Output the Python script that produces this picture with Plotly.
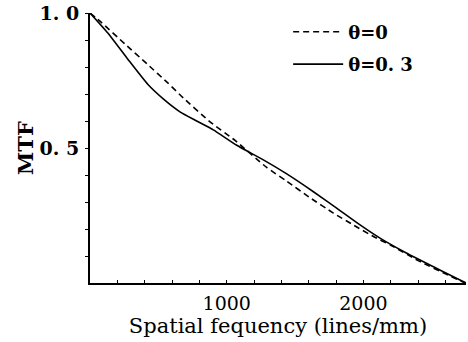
import plotly.graph_objects as go

# theta = 0 (dashed)
x_t0 = [0, 83, 256, 420, 571, 683, 878, 1061, 1292, 1439, 1609, 1780, 1926, 2073, 2200, 2400, 2600, 2743]
y_t0 = [1.0, 0.965, 0.885, 0.810, 0.740, 0.685, 0.597, 0.528, 0.428, 0.377, 0.316, 0.259, 0.215, 0.172, 0.140, 0.083, 0.034, 0.0]

# theta = 0.3 (solid)
x_t3 = [0, 132, 278, 424, 540, 658, 780, 902, 1073, 1268, 1439, 1634, 1804, 1975, 2121, 2317, 2512, 2658, 2750]
y_t3 = [1.0, 0.925, 0.828, 0.735, 0.680, 0.634, 0.600, 0.567, 0.510, 0.456, 0.404, 0.338, 0.277, 0.215, 0.166, 0.110, 0.060, 0.023, 0.0]

x_tickvals = [200, 400, 600, 800, 1000, 1200, 1400, 1600, 1800, 2000, 2200, 2400, 2600]
x_ticktext = ["", "", "", "", "1000", "", "", "", "", "2000", "", "", ""]
y_tickvals = [0.1, 0.2, 0.3, 0.4, 0.5, 0.6, 0.7, 0.8, 0.9, 1.0]
y_ticktext = ["", "", "", "", "0. 5", "", "", "", "", "1. 0"]

serif = "DejaVu Serif, serif"

fig = go.Figure()
fig.add_trace(go.Scatter(x=x_t0, y=y_t0, mode="lines", name="θ=0", legendgroup="a",
                         line=dict(color="black", width=1.6, dash="6px,4px", shape="spline", smoothing=0.5),
                         cliponaxis=False))
fig.add_trace(go.Scatter(x=x_t3, y=y_t3, mode="lines", name="θ=0. 3", legendgroup="b",
                         line=dict(color="black", width=1.6, shape="spline", smoothing=0.5),
                         cliponaxis=False))

fig.update_layout(
    width=468, height=342,
    margin=dict(l=90, r=2, t=13, b=59, autoexpand=False),
    paper_bgcolor="white", plot_bgcolor="white",
    font=dict(family=serif, color="black", size=20),
    legend=dict(x=0.527, y=0.998, xanchor="left", yanchor="top",
                bgcolor="rgba(0,0,0,0)", font=dict(family=serif, size=18, weight="bold", color="black"),
                tracegroupgap=6, itemwidth=50),
    showlegend=True,
)
fig.update_xaxes(range=[0, 2750], showline=True, linecolor="black", linewidth=2,
                 showgrid=False, zeroline=False, ticks="inside", ticklen=3, tickwidth=1.2,
                 tickcolor="black", tickvals=x_tickvals, ticktext=x_ticktext,
                 tickfont=dict(size=19, color="black"), ticklabelstandoff=2, automargin=False,
                 title=dict(text="Spatial fequency (lines/mm)", standoff=0,
                            font=dict(size=21, color="black")))
fig.update_yaxes(range=[0, 1.0], showline=True, linecolor="black", linewidth=2,
                 showgrid=False, zeroline=False, ticks="outside", ticklen=3, tickwidth=1.2,
                 tickcolor="black", tickvals=y_tickvals, ticktext=y_ticktext,
                 tickfont=dict(size=19, weight="bold", color="black"), ticklabelstandoff=2,
                 automargin=False,
                 title=dict(text="MTF", standoff=0, font=dict(size=21, weight="bold", color="black")))

fig.write_html("out.html", config={"displayModeBar": False},
               post_script="document.body.style.margin='0';document.body.style.overflow='hidden';")
